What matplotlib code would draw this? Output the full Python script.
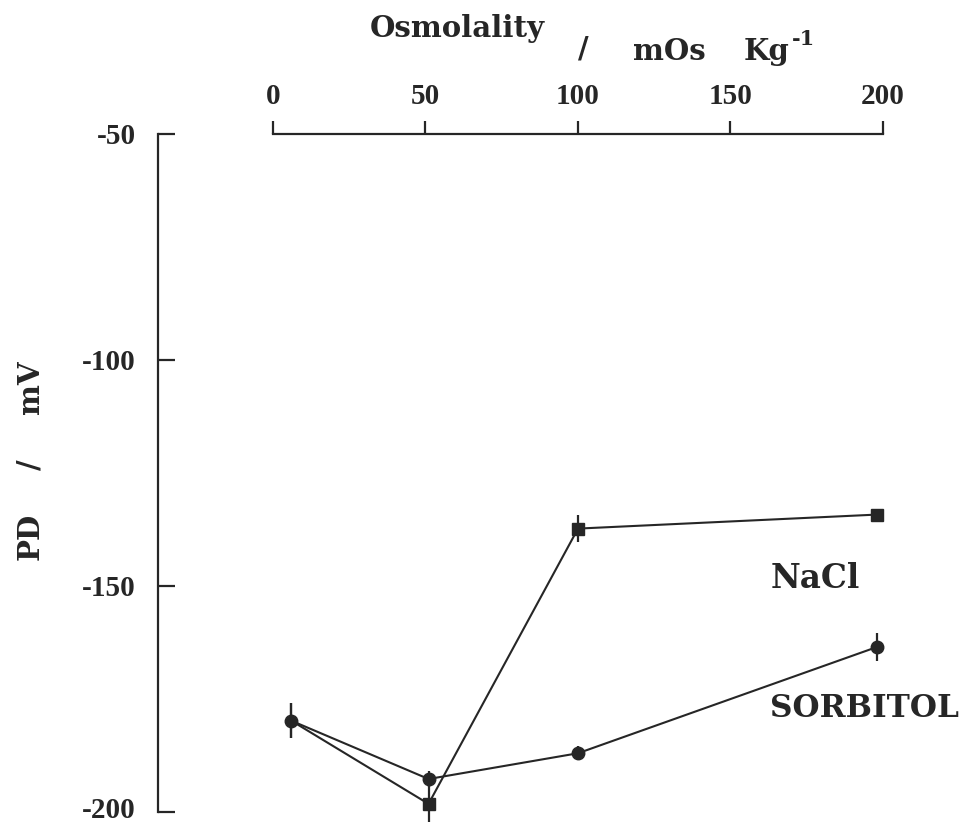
import matplotlib
matplotlib.use("Agg")
import matplotlib.pyplot as plt
from matplotlib.transforms import ScaledTranslation

plt.rcParams["font.family"] = "DejaVu Serif"
plt.rcParams["font.weight"] = "bold"

# Data
osmolality_nacl = [6, 51, 100, 198]
pd_nacl = [-179.8, -198.2, -137.3, -134.2]
err_nacl = [3.9, 4.0, 3.0, 1.2]

osmolality_sorb = [6, 51, 100, 198]
pd_sorb = [-179.8, -192.7, -187.0, -163.5]
err_sorb = [3.9, 1.8, 1.5, 3.0]

xticks = [0, 50, 100, 150, 200]
yticks = [-200, -150, -100, -50]

ink = "#262626"
W, H = 963, 824

fig = plt.figure(figsize=(W / 100, H / 100), dpi=100)
# y axis sits at px 158, x runs 0..200 between px 273 and 883
ax = fig.add_axes([158 / W, (H - 812) / H, (883 - 158) / W, (812 - 134) / H])

ax.errorbar(osmolality_nacl, pd_nacl, yerr=err_nacl, color=ink, lw=1.5,
            marker='s', ms=8, markevery=[1, 2, 3], elinewidth=1.6, capsize=0,
            clip_on=False, zorder=3)
ax.errorbar(osmolality_sorb, pd_sorb, yerr=err_sorb, color=ink, lw=1.5,
            marker='o', ms=9, elinewidth=1.6, capsize=0, clip_on=False, zorder=3)

ax.set_xlim(-37.7, 200)
ax.set_ylim(-200, -50)

# x axis on top, y axis on left
ax.spines['right'].set_visible(False)
ax.spines['bottom'].set_visible(False)
ax.spines['top'].set_bounds(0, 200)
ax.spines['left'].set_bounds(-200, -50)
for s in ('top', 'left'):
    ax.spines[s].set_linewidth(1.6)
    ax.spines[s].set_color(ink)

tick_font = {'family': 'Liberation Serif', 'weight': 'bold'}

ax.xaxis.tick_top()
ax.set_xticks(xticks)
ax.set_xticklabels([str(v) for v in xticks], fontdict=tick_font)
ax.tick_params(axis='x', direction='out', length=9.5, width=1.6, pad=8,
               labelsize=21, colors=ink)
ax.set_yticks(yticks)
ax.set_yticklabels([str(v) for v in yticks], fontdict=tick_font)
ax.tick_params(axis='y', direction='in', length=12, width=1.6, pad=16,
               labelsize=21, colors=ink)
# nudge the bottom label up a little so it stays inside the canvas
lab = ax.get_yticklabels()[0]
lab.set_transform(lab.get_transform() + ScaledTranslation(0, 4 / 100, fig.dpi_scale_trans))
ax.patch.set_visible(False)

# Axis titles
fig.text(457 / W, 1 - 37 / H, "Osmolality", fontsize=21, ha='center', va='baseline', color=ink)
fig.text(583 / W, 1 - 58 / H, "/", fontsize=21, ha='center', va='baseline', color=ink)
fig.text(669 / W, 1 - 60 / H, "mOs", fontsize=21, ha='center', va='baseline', color=ink)
fig.text(766 / W, 1 - 60 / H, "Kg", fontsize=21, ha='center', va='baseline', color=ink)
fig.text(803 / W, 1 - 45 / H, "-1", fontsize=15, ha='center', va='baseline', color=ink)

fig.text(30 / W, 1 - 536 / H, "PD", fontsize=21, rotation=90, ha='center', va='center', color=ink)
fig.text(30 / W, 1 - 465 / H, "/", fontsize=21, rotation=90, ha='center', va='center', color=ink)
fig.text(30 / W, 1 - 387 / H, "mV", fontsize=21, rotation=90, ha='center', va='center', color=ink)

# Series labels
ax.text(163, -148.3, "NaCl", fontsize=23.5, ha='left', va='center', color=ink)
ax.text(163, -177.0, "SORBITOL", fontsize=22.5, ha='left', va='center', color=ink)

fig.savefig("out.png", dpi=100)
